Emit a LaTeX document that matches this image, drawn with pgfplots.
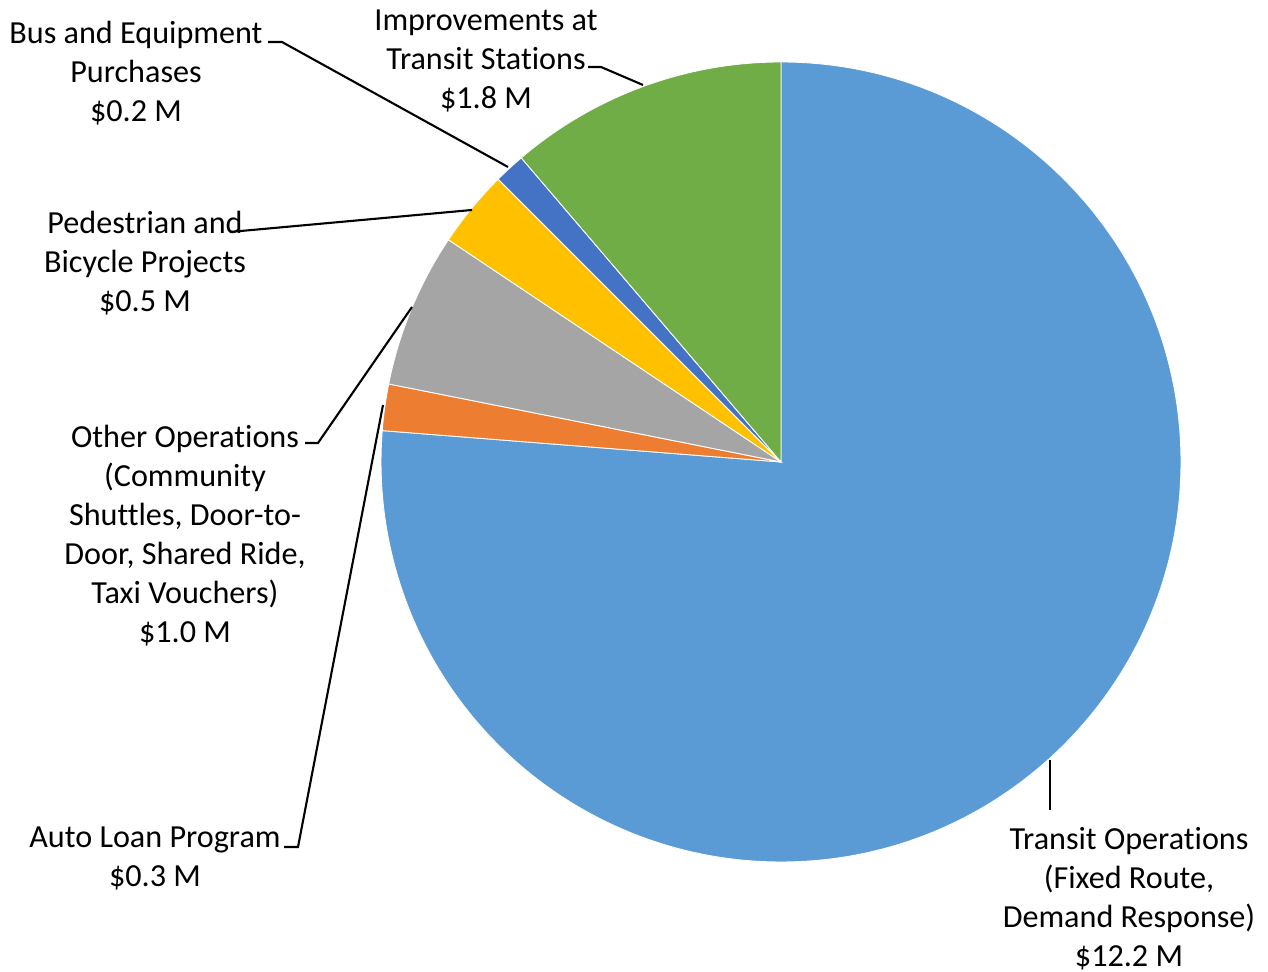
\documentclass[border=0pt]{standalone}
\usepackage{pgfplots}
\usepackage{pgfplotstable}
\pgfplotsset{compat=1.18}
\usepackage{fontspec}
\setmainfont{Carlito}[Ligatures=NoCommon]
\definecolor{c1}{HTML}{5B9BD5}
\definecolor{c2}{HTML}{ED7D31}
\definecolor{c3}{HTML}{A5A5A5}
\definecolor{c4}{HTML}{FFC000}
\definecolor{c5}{HTML}{4472C4}
\definecolor{c6}{HTML}{70AD47}
\pgfplotstableread{
label value color
Transit 12.2 c1
Auto 0.3 c2
Other 1.0 c3
Ped 0.5 c4
Bus 0.2 c5
Improve 1.8 c6
}\piedata
\begin{document}
\begin{tikzpicture}
\begin{axis}[x=1cm, y=1cm, xmin=-7.81, xmax=4.87, ymin=-5.10, ymax=4.62,
  hide axis, clip=false, scale only axis]
\path (axis cs:-7.81,-5.10) rectangle (axis cs:4.87,4.62);
\xdef\total{0}
\pgfplotsinvokeforeach{0,...,5}{%
  \pgfplotstablegetelem{#1}{value}\of\piedata
  \pgfmathsetmacro\tmp{\total+\pgfplotsretval}%
  \xdef\total{\tmp}%
}
\xdef\cum{0}
\pgfplotsinvokeforeach{0,...,5}{%
  \pgfplotstablegetelem{#1}{value}\of\piedata \let\v\pgfplotsretval
  \pgfplotstablegetelem{#1}{color}\of\piedata \let\c\pgfplotsretval
  \pgfmathsetmacro\a{90-\cum*360/\total}%
  \pgfmathsetmacro\b{90-(\cum+\v)*360/\total}%
  \edef\temp{\noexpand\fill[\c, draw=white, line width=0.25pt] (axis cs:0,0) -- (axis cs:{4*cos(\a)},{4*sin(\a)}) arc[start angle=\a, end angle=\b, radius=4cm] -- cycle;}%
  \temp
  \pgfmathsetmacro\tmp{\cum+\v}%
  \xdef\cum{\tmp}%
}
% leader lines
\draw[black, line width=0.6pt] (axis cs:-5.13,4.20) -- (axis cs:-4.99,4.20) -- (axis cs:-2.73,2.95);
\draw[black, line width=0.6pt] (axis cs:-1.93,3.95) -- (axis cs:-1.80,3.95) -- (axis cs:-1.38,3.77);
\draw[black, line width=0.6pt] (axis cs:-5.51,2.30) -- (axis cs:-3.09,2.52);
\draw[black, line width=0.6pt] (axis cs:-4.76,0.19) -- (axis cs:-4.63,0.19) -- (axis cs:-3.69,1.55);
\draw[black, line width=0.6pt] (axis cs:-4.97,-3.85) -- (axis cs:-4.83,-3.85) -- (axis cs:-3.98,0.57);
\draw[black, line width=0.6pt] (axis cs:2.69,-2.98) -- (axis cs:2.69,-3.48);
% labels
\tikzset{lab/.style={align=center, font=\fontsize{9.15}{11.1}\selectfont, inner sep=0pt}}
\node[lab] at (axis cs:-6.45,3.89) {Bus and Equipment\\Purchases\\\$0.2 M};
\node[lab] at (axis cs:-2.95,4.01) {Improvements at\\Transit Stations\\\$1.8 M};
\node[lab] at (axis cs:-6.36,1.99) {Pedestrian and\\Bicycle Projects\\\$0.5 M};
\node[lab] at (axis cs:-5.96,-0.735) {Other Operations\\(Community\\Shuttles, Door-to-\\Door, Shared Ride,\\Taxi Vouchers)\\\$1.0 M};
\node[lab] at (axis cs:-6.26,-3.96) {Auto Loan Program\\\$0.3 M};
\node[lab] at (axis cs:3.48,-4.365) {Transit Operations\\(Fixed Route,\\Demand Response)\\\$12.2 M};
\end{axis}
\end{tikzpicture}
\end{document}
